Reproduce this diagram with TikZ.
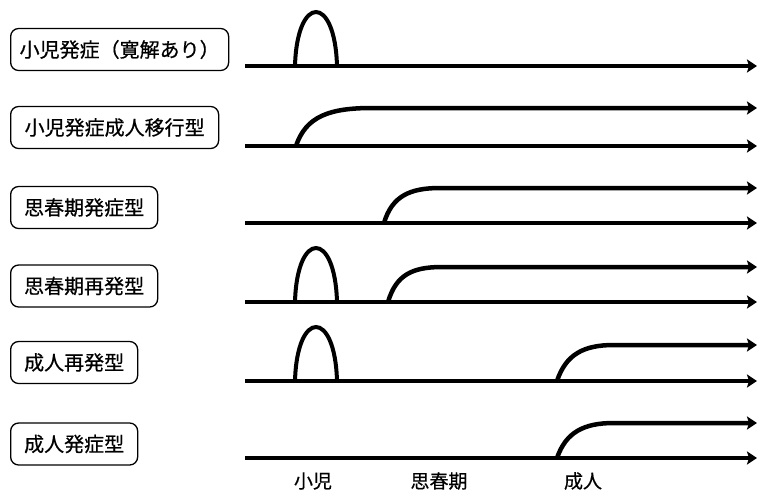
\documentclass[tikz,border=0pt]{standalone}
\usepackage{fontspec}
\setmainfont{Noto Sans CJK JP}
\newfontfamily\jpmed{Noto Sans CJK JP}[FakeBold=0.6]
\usetikzlibrary{arrows.meta}
\begin{document}
\begin{tikzpicture}[x=1pt,y=-1pt,
  lbox/.style={draw,line width=1.3pt,rounded corners=8pt,minimum height=42pt,inner sep=0pt,anchor=west,font=\jpmed\fontsize{20}{22}\selectfont},
  axisline/.style={line width=4.5pt,-{Stealth[length=10pt,width=13pt,inset=2pt]}},
  hump/.style={line width=4pt},
  rise/.style={line width=4.5pt,-{Stealth[length=10pt,width=13pt,inset=2pt]}},
  tick/.style={font=\jpmed\fontsize{19}{21}\selectfont}]
\useasboundingbox (0,0) rectangle (758,491);
% labels
\node[lbox,minimum width=218pt] (b1) at (10,49.5) {小児発症（寛解あり）};
\node[lbox,minimum width=208pt] (b2) at (10,127.5) {小児発症成人移行型};
\node[lbox,minimum width=147pt] (b3) at (10,207.5) {思春期発症型};
\node[lbox,minimum width=147pt] (b4) at (10,286) {思春期再発型};
\node[lbox,minimum width=127pt] (b5) at (10,362.5) {成人再発型};
\node[lbox,minimum width=127pt] (b6) at (10,444) {成人発症型};
% axis coordinates
\foreach \n/\y in {1/66,2/146,3/223,4/302,5/381,6/458}{
  \coordinate (s\n) at (245,\y);
  \coordinate (e\n) at (757,\y);
}
\foreach \n in {1,...,6}{\draw[axisline] (s\n) -- (e\n);}
% humps (childhood onset)
\coordinate (h1a) at (295,66); \coordinate (h1b) at (337,66);
\coordinate (h4a) at (295,302); \coordinate (h4b) at (337,302);
\coordinate (h5a) at (295,381); \coordinate (h5b) at (337,381);
\draw[hump] (h1a) .. controls (297,-6) and (335,-6) .. (h1b);
\draw[hump] (h4a) .. controls (297,230) and (335,230) .. (h4b);
\draw[hump] (h5a) .. controls (297,309) and (335,309) .. (h5b);
% rising branches
\coordinate (r2) at (296,146); \coordinate (t2) at (757,108);
\coordinate (r3) at (384,223); \coordinate (t3) at (757,188);
\coordinate (r4) at (388,302); \coordinate (t4) at (757,267);
\coordinate (r5) at (557,381); \coordinate (t5) at (757,345);
\coordinate (r6) at (557,458); \coordinate (t6) at (757,423);
\draw[rise] (r2) .. controls (306,116) and (330,108) .. (372,108) -- (t2);
\draw[rise] (r3) .. controls (392,196) and (410,188) .. (440,188) -- (t3);
\draw[rise] (r4) .. controls (396,275) and (412,267) .. (442,267) -- (t4);
\draw[rise] (r5) .. controls (566,354) and (584,345) .. (614,345) -- (t5);
\draw[rise] (r6) .. controls (566,432) and (584,423) .. (614,423) -- (t6);
% stage labels
\node[tick] (c1) at (313,481) {小児};
\node[tick] (c2) at (439,481) {思春期};
\node[tick] (c3) at (583,481) {成人};
\end{tikzpicture}
\end{document}
